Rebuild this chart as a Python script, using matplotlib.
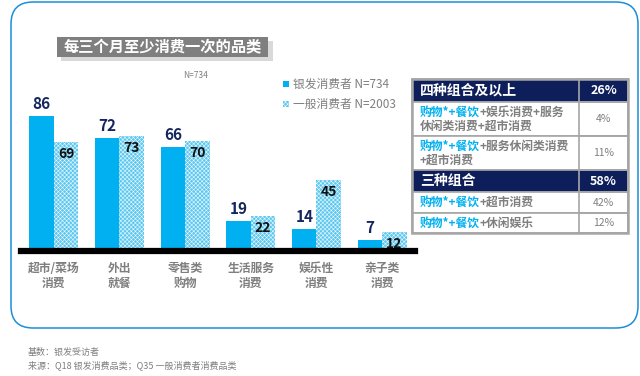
import numpy as np
import matplotlib
matplotlib.use("Agg")
import matplotlib.pyplot as plt
from matplotlib.patches import Rectangle, FancyBboxPatch
from matplotlib.transforms import Affine2D

plt.rcParams['font.family'] = ['Noto Sans CJK SC', 'DejaVu Sans']
plt.rcParams['hatch.linewidth'] = 0.35

categories = ["超市/菜场\n消费", "外出\n就餐", "零售类\n购物", "生活服务\n消费", "娱乐性\n消费", "亲子类\n消费"]
silver = [86, 72, 66, 19, 14, 7]
general = [69, 73, 70, 22, 45, 12]
legend_labels = ["银发消费者 N=734", "一般消费者 N=2003"]

table_rows = [
    ("head", "四种组合及以上", "", "26%"),
    ("sub", "+娱乐消费+服务\n休闲类消费+超市消费", "购物*+餐饮", "4%"),
    ("sub", "+服务休闲类消费\n+超市消费", "购物*+餐饮", "11%"),
    ("head", "三种组合", "", "58%"),
    ("sub", "+超市消费", "购物*+餐饮", "42%"),
    ("sub", "+休闲娱乐", "购物*+餐饮", "12%"),
]
row_edges = [79, 102, 136, 170, 192, 213, 233]

W, H = 640, 376
fig = plt.figure(figsize=(W / 100, H / 100), dpi=100)
pix = Affine2D().scale(1 / W, -1 / H).translate(0, 1) + fig.transFigure

CYAN = '#00B0F0'
LIGHT = '#5CC8F0'
NAVY = '#0E1E5B'
GRAY = '#7F7F7F'

# outer rounded frame
fig.patches.append(FancyBboxPatch((11, 2), 627, 326, boxstyle="round,pad=0,rounding_size=22",
                                  transform=pix, fill=False, ec='#1A8FD8', lw=1.1))

# title bar with shadow
fig.patches.append(Rectangle((61, 41), 212, 20, transform=pix, fc='#D9D9D9', ec='none'))
fig.patches.append(Rectangle((57, 37), 211, 20, transform=pix, fc='#7F7F7F', ec='none'))
fig.text(162.5 / W, 1 - 47.5 / H, "每三个月至少消费一次的品类", color='white', fontsize=11,
         fontweight='bold', ha='center', va='center')
fig.text(196 / W, 1 - 75 / H, "N=734", color=GRAY, fontsize=6, style='italic', ha='center', va='center')

# bars
ax = fig.add_axes([21 / W, 1 - 251 / H, 394 / W, 191 / H])
x = np.arange(len(categories))
w = 0.372
ax.bar(x - w / 2, silver, w, color=CYAN, lw=0)
ax.bar(x + w / 2, general, w, color=LIGHT, edgecolor='white', hatch='xxxxxxxx', lw=0)
ax.set_xlim(-0.5, 5.5)
ax.set_ylim(0, 121.3)
for i in range(len(categories)):
    ax.text(x[i] - w / 2, silver[i] + 2.5, str(silver[i]), ha='center', va='bottom',
            color='#14275C', fontsize=11, fontweight='bold')
    ax.text(x[i] + w / 2, general[i] - 3, str(general[i]), ha='center', va='top',
            color='#111111', fontsize=10, fontweight='bold')
ax.axhline(0, color='black', lw=4.5, clip_on=False)
ax.set_xticks(x)
ax.set_xticklabels(categories, color=GRAY, fontsize=8.5, fontweight='bold', linespacing=1.15)
ax.tick_params(axis='x', length=0, pad=8)
ax.set_yticks([])
for s in ax.spines.values():
    s.set_visible(False)
ax.patch.set_alpha(0)

# legend
fig.patches.append(Rectangle((283, 81), 6, 6, transform=pix, fc=CYAN, ec='none'))
fig.patches.append(Rectangle((283, 101), 6, 6, transform=pix, fc=LIGHT, ec='white',
                             hatch='xxxxxxxx', lw=0))
fig.text(293 / W, 1 - 84 / H, legend_labels[0], color=GRAY, fontsize=8.5, va='center')
fig.text(293 / W, 1 - 104 / H, legend_labels[1], color=GRAY, fontsize=8.5, va='center')

# table
x0, x1, x2 = 412, 579, 628
renderer = fig.canvas.get_renderer()
for r, (kind, txt, lead, pct) in enumerate(table_rows):
    top, bot = row_edges[r], row_edges[r + 1]
    cy = (top + bot) / 2
    if kind == "head":
        fig.patches.append(Rectangle((x0, top), x2 - x0, bot - top, transform=pix, fc=NAVY,
                                     ec='#A6A6A6', lw=1.2))
        fig.patches.append(Rectangle((x1, top), x2 - x1, bot - top, transform=pix, fill=False,
                                     ec='#A6A6A6', lw=1.2))
        fig.text(420 / W, 1 - cy / H, txt, color='white', fontsize=10, fontweight='bold', va='center')
        fig.text((x1 + x2) / 2 / W, 1 - cy / H, pct, color='white', fontsize=9, fontweight='bold',
                 ha='center', va='center')
    else:
        fig.patches.append(Rectangle((x0, top), x2 - x0, bot - top, transform=pix, fc='white',
                                     ec='#A6A6A6', lw=1.2))
        fig.patches.append(Rectangle((x1, top), x2 - x1, bot - top, transform=pix, fill=False,
                                     ec='#A6A6A6', lw=1.2))
        lines = txt.split("\n")
        n = len(lines)
        ys = [cy] if n == 1 else [cy - 7, cy + 7]
        t = fig.text(420 / W, 1 - ys[0] / H, lead, color=CYAN, fontsize=8.5, fontweight='bold', va='center')
        lw_px = t.get_window_extent(renderer).width
        fig.text((420 + lw_px) / W, 1 - ys[0] / H, lines[0], color=GRAY, fontsize=8.5,
                 fontweight='bold', va='center')
        if n > 1:
            fig.text(420 / W, 1 - ys[1] / H, lines[1], color=GRAY, fontsize=8.5,
                     fontweight='bold', va='center')
        fig.text((x1 + x2) / 2 / W, 1 - cy / H, pct, color=GRAY, fontsize=7.5,
                 ha='center', va='center')
fig.patches.append(Rectangle((x0, row_edges[0]), x2 - x0, row_edges[-1] - row_edges[0], transform=pix,
                             fill=False, ec='#A6A6A6', lw=1.8))

# footnotes
fig.text(28 / W, 1 - 352 / H, "基数：银发受访者", color=GRAY, fontsize=6.5, va='center')
fig.text(28 / W, 1 - 365 / H, "来源：Q18 银发消费品类；Q35 一般消费者消费品类", color=GRAY, fontsize=6.5, va='center')

fig.savefig("out.png", dpi=100)
